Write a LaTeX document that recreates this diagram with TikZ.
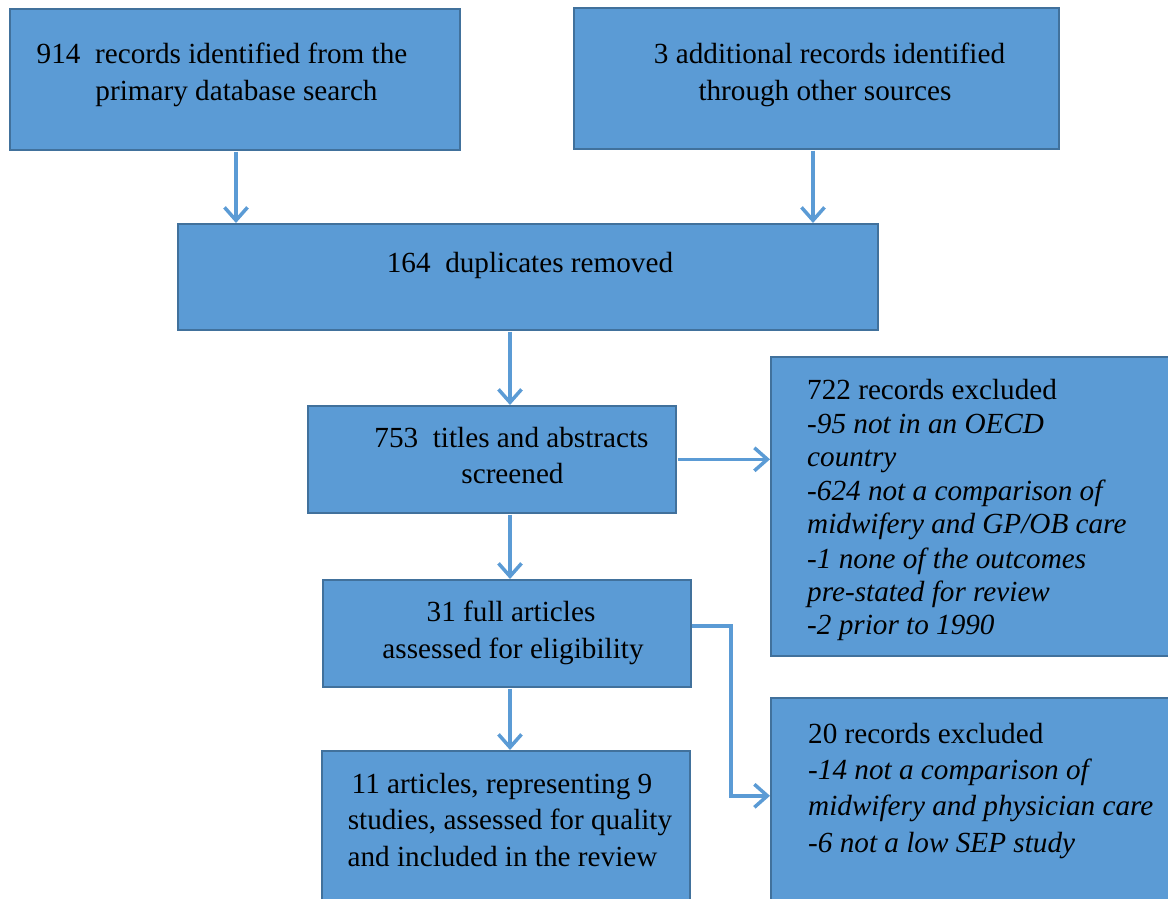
\documentclass[tikz,border=0pt]{standalone}
\usepackage{fontspec}
\setmainfont{Liberation Serif}
\usetikzlibrary{arrows.meta}
\definecolor{boxfill}{HTML}{5B9BD5}
\definecolor{boxline}{HTML}{41719C}
\begin{document}
\begin{tikzpicture}[x=1pt,y=-1pt,
  box/.style={draw=boxline, fill=boxfill, line width=1.6pt, rectangle, anchor=north west, inner sep=0},
  txt/.style={font=\fontsize{29.2}{35}\selectfont, inner sep=0, anchor=base, text=black},
  ltxt/.style={txt, anchor=base west},
  itxt/.style={txt, font=\fontsize{29.2}{35}\selectfont\itshape, anchor=base west},
  arr/.style={draw=boxfill, line width=3.5pt, -{Straight Barb[length=13pt,width=23pt]}}]
\useasboundingbox (0,0) rectangle (1168,898);
% boxes
\node[box, minimum width=450pt, minimum height=141pt] (A) at (9,8) {};
\node[box, minimum width=485pt, minimum height=141pt] (B) at (573,7) {};
\node[box, minimum width=700pt, minimum height=106pt] (C) at (177,223) {};
\node[box, minimum width=368pt, minimum height=107pt] (D) at (307,405) {};
\node[box, minimum width=410pt, minimum height=299pt] (E) at (770,356) {};
\node[box, minimum width=368pt, minimum height=107pt] (F) at (322,579) {};
\node[box, minimum width=368pt, minimum height=160pt] (G) at (321,750) {};
\node[box, minimum width=410pt, minimum height=210pt] (H) at (770,697) {};
% texts
\node[txt] (a1) at (222,63) {914~ records identified from the};
\node[txt] (a2) at (236.5,100) {primary database search};
\node[txt] (b1) at (829.5,63) {3 additional records identified};
\node[txt] (b2) at (825,100) {through other sources};
\node[txt] (c1) at (530,272) {164~ duplicates removed};
\node[txt] (d1) at (511.5,447) {753~ titles and abstracts};
\node[txt] (d2) at (512.5,483) {screened};
\node[ltxt] (e1) at (807,399) {722 records excluded};
\node[itxt] (e2) at (807,433) {-95 not in an OECD};
\node[itxt] (e3) at (807,466) {country};
\node[itxt] (e4) at (807,500) {-624 not a comparison of};
\node[itxt] (e5) at (807,533) {midwifery and GP/OB care};
\node[itxt] (e6) at (807,568) {-1 none of the outcomes};
\node[itxt] (e7) at (807,601) {pre-stated for review};
\node[itxt] (e8) at (807,634) {-2 prior to 1990};
\node[txt] (f1) at (511,621) {31 full articles};
\node[txt] (f2) at (513,658) {assessed for eligibility};
\node[txt] (g1) at (502,793) {11 articles, representing 9};
\node[txt] (g2) at (510,829) {studies, assessed for quality};
\node[txt] (g3) at (502.5,866) {and included in the review};
\node[ltxt] (h1) at (808,743) {20 records excluded};
\node[itxt] (h2) at (808,779) {-14 not a comparison of};
\node[itxt] (h3) at (808,815) {midwifery and physician care};
\node[itxt] (h4) at (808,852) {-6 not a low SEP study};
% connectors
\coordinate (xa) at (236,0);
\coordinate (xb) at (813,0);
\coordinate (sp) at (510,0);
\coordinate (fh) at (731,0);
\draw[arr] ([yshift=-1pt]A.south -| xa) -- (C.north -| xa);
\draw[arr] ([yshift=-1pt]B.south -| xb) -- (C.north -| xb);
\draw[arr] ([yshift=-1pt]C.south -| sp) -- (D.north -| sp);
\draw[arr] ([xshift=1pt]D.east) -- (E.west |- D.east);
\draw[arr] ([yshift=-1pt]D.south -| sp) -- (F.north -| sp);
\draw[arr] ([yshift=-1pt]F.south -| sp) -- (G.north -| sp);
\draw[arr] ([yshift=7.5pt]F.east) -- ([yshift=7.5pt]F.east -| fh) -- ([yshift=7pt]H.west -| fh) -- ([yshift=7pt]H.west);
\end{tikzpicture}
\end{document}
